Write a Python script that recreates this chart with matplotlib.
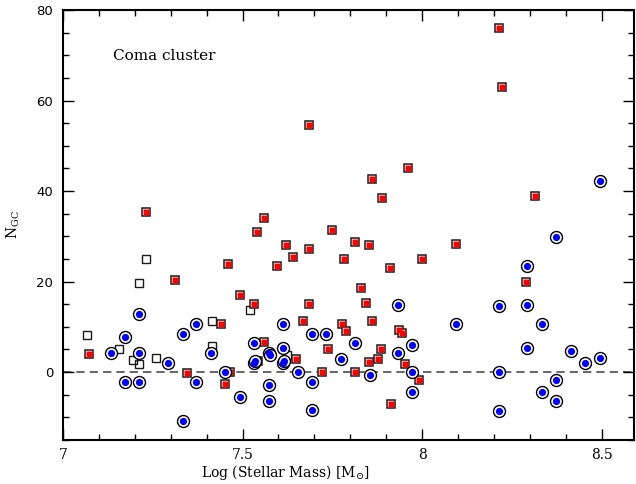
import numpy as np
import matplotlib.pyplot as plt
from matplotlib.ticker import MultipleLocator

plt.rcParams['mathtext.fontset'] = 'dejavuserif'

# galaxies with a red marker (square outline + red fill)
red_mass = [7.231, 7.684, 7.960, 7.860, 7.888, 7.559, 7.749, 7.540, 8.214, 8.222,
            8.313, 7.312, 7.460, 7.492, 7.532, 7.440, 7.071, 7.464, 7.344, 7.452,
            7.621, 7.812, 7.852, 7.685, 7.641, 7.781, 8.000, 7.597, 7.910, 7.829,
            7.685, 7.845, 7.669, 7.860, 7.777, 7.789, 7.935, 7.944, 7.560, 7.737,
            7.885, 7.648, 7.877, 7.852, 7.543, 7.953, 7.720, 7.812, 7.990, 7.914,
            8.093, 8.290]
red_ngc = [35.4, 54.6, 45.1, 42.6, 38.5, 34.0, 31.5, 31.0, 76.0, 62.9,
           39.0, 20.4, 23.9, 17.0, 15.1, 10.7, 4.1, 0.0, -0.1, -2.7,
           28.0, 28.8, 28.0, 27.2, 25.5, 25.0, 25.0, 23.5, 23.0, 18.6,
           15.1, 15.2, 11.4, 11.2, 10.7, 9.0, 9.3, 8.7, 6.7, 5.2,
           5.2, 3.0, 3.0, 2.3, 2.4, 1.8, 0.1, 0.1, -1.8, -7.1,
           28.2, 20.0]

# open squares only
open_mass = [7.231, 7.211, 7.522, 7.415, 7.068, 7.157, 7.195, 7.212, 7.260, 7.415,
             7.625]
open_ngc = [25.1, 19.7, 13.7, 11.2, 8.3, 5.2, 2.7, 1.8, 3.2, 5.7,
            3.7]

# blue dots in circles
blue_mass = [8.495, 7.211, 7.371, 7.333, 7.173, 7.133, 7.211, 7.291, 7.412, 7.532,
             7.532, 7.535, 7.452, 7.371, 7.173, 7.211, 7.492, 7.333, 7.933, 7.612,
             7.693, 7.733, 7.612, 7.812, 7.972, 7.933, 7.573, 7.575, 7.773, 7.612,
             7.614, 7.653, 7.854, 7.972, 7.693, 7.573, 7.573, 7.972, 7.693, 8.374,
             8.293, 8.214, 8.293, 8.093, 8.334, 8.293, 8.414, 8.494, 8.454, 8.214,
             8.374, 8.334, 8.374, 8.214]
blue_ngc = [42.2, 12.8, 10.7, 8.5, 7.8, 4.3, 4.3, 2.1, 4.3, 6.4,
            2.1, 2.4, 0.0, -2.2, -2.2, -2.2, -5.6, -10.7, 14.9, 10.7,
            8.5, 8.5, 5.4, 6.4, 5.9, 4.3, 4.2, 3.8, 2.9, 2.1,
            2.4, 0.0, -0.7, 0.0, -2.1, -2.9, -6.4, -4.3, -8.4, 29.9,
            23.5, 14.7, 14.9, 10.7, 10.7, 5.4, 4.6, 3.2, 2.1, 0.0,
            -1.8, -4.3, -6.4, -8.6]

fig = plt.figure(figsize=(6.36, 4.84), dpi=100)
ax = fig.add_axes([0.0991, 0.0909, 0.8978, 0.8884])

# zero line
ax.axhline(0, color='#4d4d4d', linewidth=1.2, linestyle=(0, (5, 3)), zorder=1)

# open squares
ax.plot(open_mass, open_ngc, linestyle='none', marker='s', markersize=6.2,
        markerfacecolor='none', markeredgecolor='#1a1a1a', markeredgewidth=1.0,
        zorder=2, snap=False)
# red squares
ax.plot(red_mass, red_ngc, linestyle='none', marker='s', markersize=6.2,
        markerfacecolor='white', markeredgecolor='#1a1a1a', markeredgewidth=1.1,
        zorder=3, snap=False)
ax.plot(red_mass, red_ngc, linestyle='none', marker='s', markersize=3.7,
        markerfacecolor='#ff0000', markeredgecolor='none', zorder=3, snap=False)
# blue circles
ax.plot(blue_mass, blue_ngc, linestyle='none', marker='o', markersize=8.6,
        markerfacecolor='white', markeredgecolor='black', markeredgewidth=1.0,
        zorder=4, snap=False)
ax.plot(blue_mass, blue_ngc, linestyle='none', marker='o', markersize=5.2,
        markerfacecolor='#0000ff', markeredgecolor='none', zorder=4, snap=False)

ax.text(7.139, 69.8, 'Coma cluster', fontsize=11, family='DejaVu Serif', va='center')

ax.set_xlim(7, 8.59)
ax.set_ylim(-15, 80)
ax.xaxis.set_minor_locator(MultipleLocator(0.1))
ax.yaxis.set_major_locator(MultipleLocator(20))
ax.yaxis.set_minor_locator(MultipleLocator(5))
ax.set_xticks([7, 7.5, 8, 8.5])
ax.set_xticklabels(['7', '7.5', '8', '8.5'], family='DejaVu Serif', fontsize=10)
ax.tick_params(which='both', direction='in', top=True, right=True, width=1.0)
ax.tick_params(which='major', length=8)
ax.tick_params(which='minor', length=4)
ax.tick_params(axis='y', labelsize=9.5, pad=7)
ax.tick_params(axis='x', pad=6)
for s in ax.spines.values():
    s.set_linewidth(1.5)

ax.set_xlabel(r'Log (Stellar Mass) [M$_{\odot}$]', family='DejaVu Serif', fontsize=10)
ax.xaxis.set_label_coords(0.389, -0.053)
ax.set_ylabel(r'N$_{\rm GC}$', family='DejaVu Serif', fontsize=10)
ax.yaxis.set_label_coords(-0.072, 0.5)

plt.savefig('out.png', dpi=100)
